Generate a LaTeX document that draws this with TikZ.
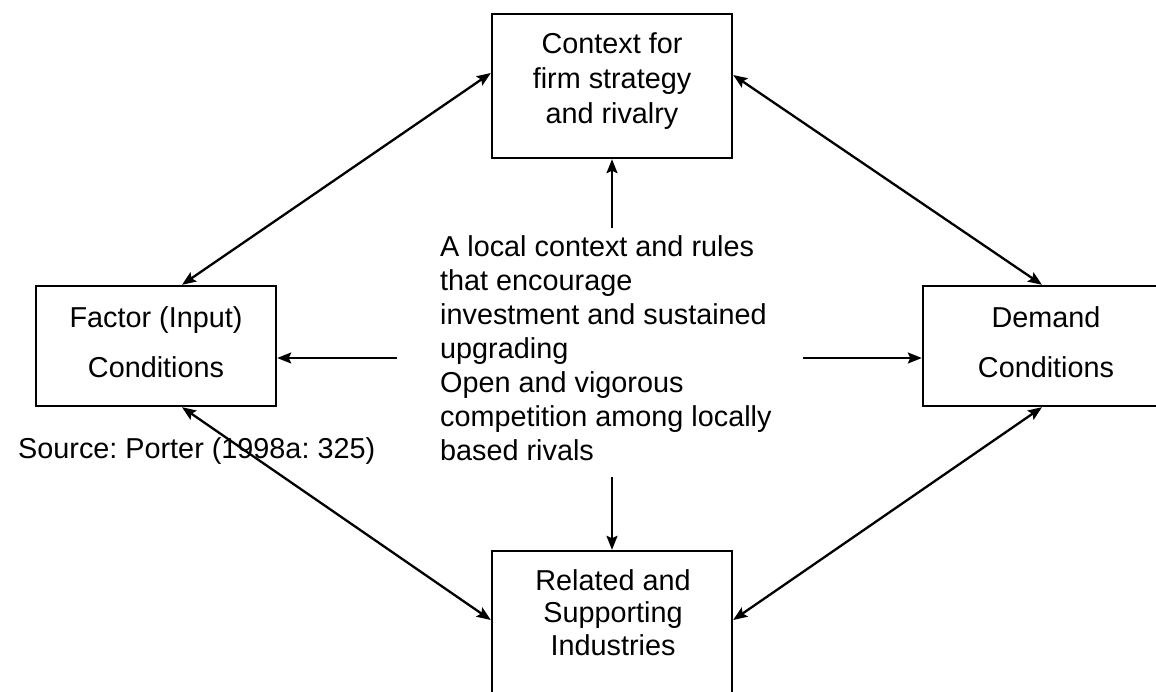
\documentclass[tikz,border=0pt]{standalone}
\usepackage{fontspec}
\setmainfont{Liberation Sans}
\usetikzlibrary{arrows.meta,calc}
\frenchspacing
\begin{document}
\begin{tikzpicture}[x=1pt,y=-1pt,
  box/.style={draw,line width=2.4pt,rectangle,minimum width=240pt,inner sep=0pt},
  lbl/.style={inner sep=0pt},
  tip/.tip={Stealth[length=14pt,width=11pt,inset=2.5pt]},
  conn/.style={line width=2.3pt,-tip},
  conn2/.style={line width=2.3pt,tip-tip}
]
\useasboundingbox (0,0) rectangle (1156,691);
\clip (0,0) rectangle (1156,691);
\fill[white] (0,0) rectangle (1156,691);

% boxes
\node[box,minimum height=144pt] (T) at (612,86) {};
\node[box,minimum height=120pt] (L) at (156,346) {};
\node[box,minimum height=120pt] (R) at (1043,346) {};
\node[box,minimum height=170pt] (B) at (612,636) {};

% box texts
\node[lbl,anchor=base,font=\fontsize{28.8}{35}\selectfont] (Tt) at (612,53)
  {\begin{tabular}[t]{@{}c@{}}Context for\\firm strategy\\and rivalry\end{tabular}};
\node[lbl,anchor=base,font=\fontsize{28.8}{50}\selectfont] (Lt) at (156,327)
  {\begin{tabular}[t]{@{}c@{}}Factor (Input)\\Conditions\end{tabular}};
\node[lbl,anchor=base,font=\fontsize{28.8}{50}\selectfont] (Rt) at (1046,327)
  {\begin{tabular}[t]{@{}c@{}}Demand\\Conditions\end{tabular}};
\node[lbl,anchor=base,font=\fontsize{28.8}{32.5}\selectfont] (Bt) at (613,590)
  {\begin{tabular}[t]{@{}c@{}}Related and\\Supporting\\Industries\end{tabular}};

% central text
\node[lbl,anchor=base west,font=\fontsize{28.8}{34}\selectfont] (M) at (440,256)
  {\begin{tabular}[t]{@{}l@{}}A local context and rules\\that encourage\\investment and sustained\\upgrading\\Open and vigorous\\competition among locally\\based rivals\end{tabular}};

% source
\node[lbl,anchor=base west,font=\fontsize{28.8}{34}\selectfont] (src) at (18,458)
  {Source: Porter (1998a: 325)};

% free ends of straight arrows
\coordinate (upTail) at (612,228);
\coordinate (dnTail) at (612,477);
\coordinate (lTail) at (397,358);
\coordinate (rTail) at (803,358);

\draw[conn] (upTail) -- (T.south);
\draw[conn] (dnTail) -- (B.north);
\draw[conn] (lTail) -- (L.east |- lTail);
\draw[conn] (rTail) -- (R.west |- rTail);

% diagonal double arrows
\draw[conn2] ([xshift=26pt]L.north) -- ([yshift=13pt]T.west);
\draw[conn2] ([yshift=11pt]T.east) -- ([xshift=-1pt]R.north);
\draw[conn2] ([xshift=26pt]L.south) -- ([yshift=16pt]B.west);
\draw[conn2] ([xshift=-1pt]R.south) -- ([yshift=16pt]B.east);
\end{tikzpicture}
\end{document}
